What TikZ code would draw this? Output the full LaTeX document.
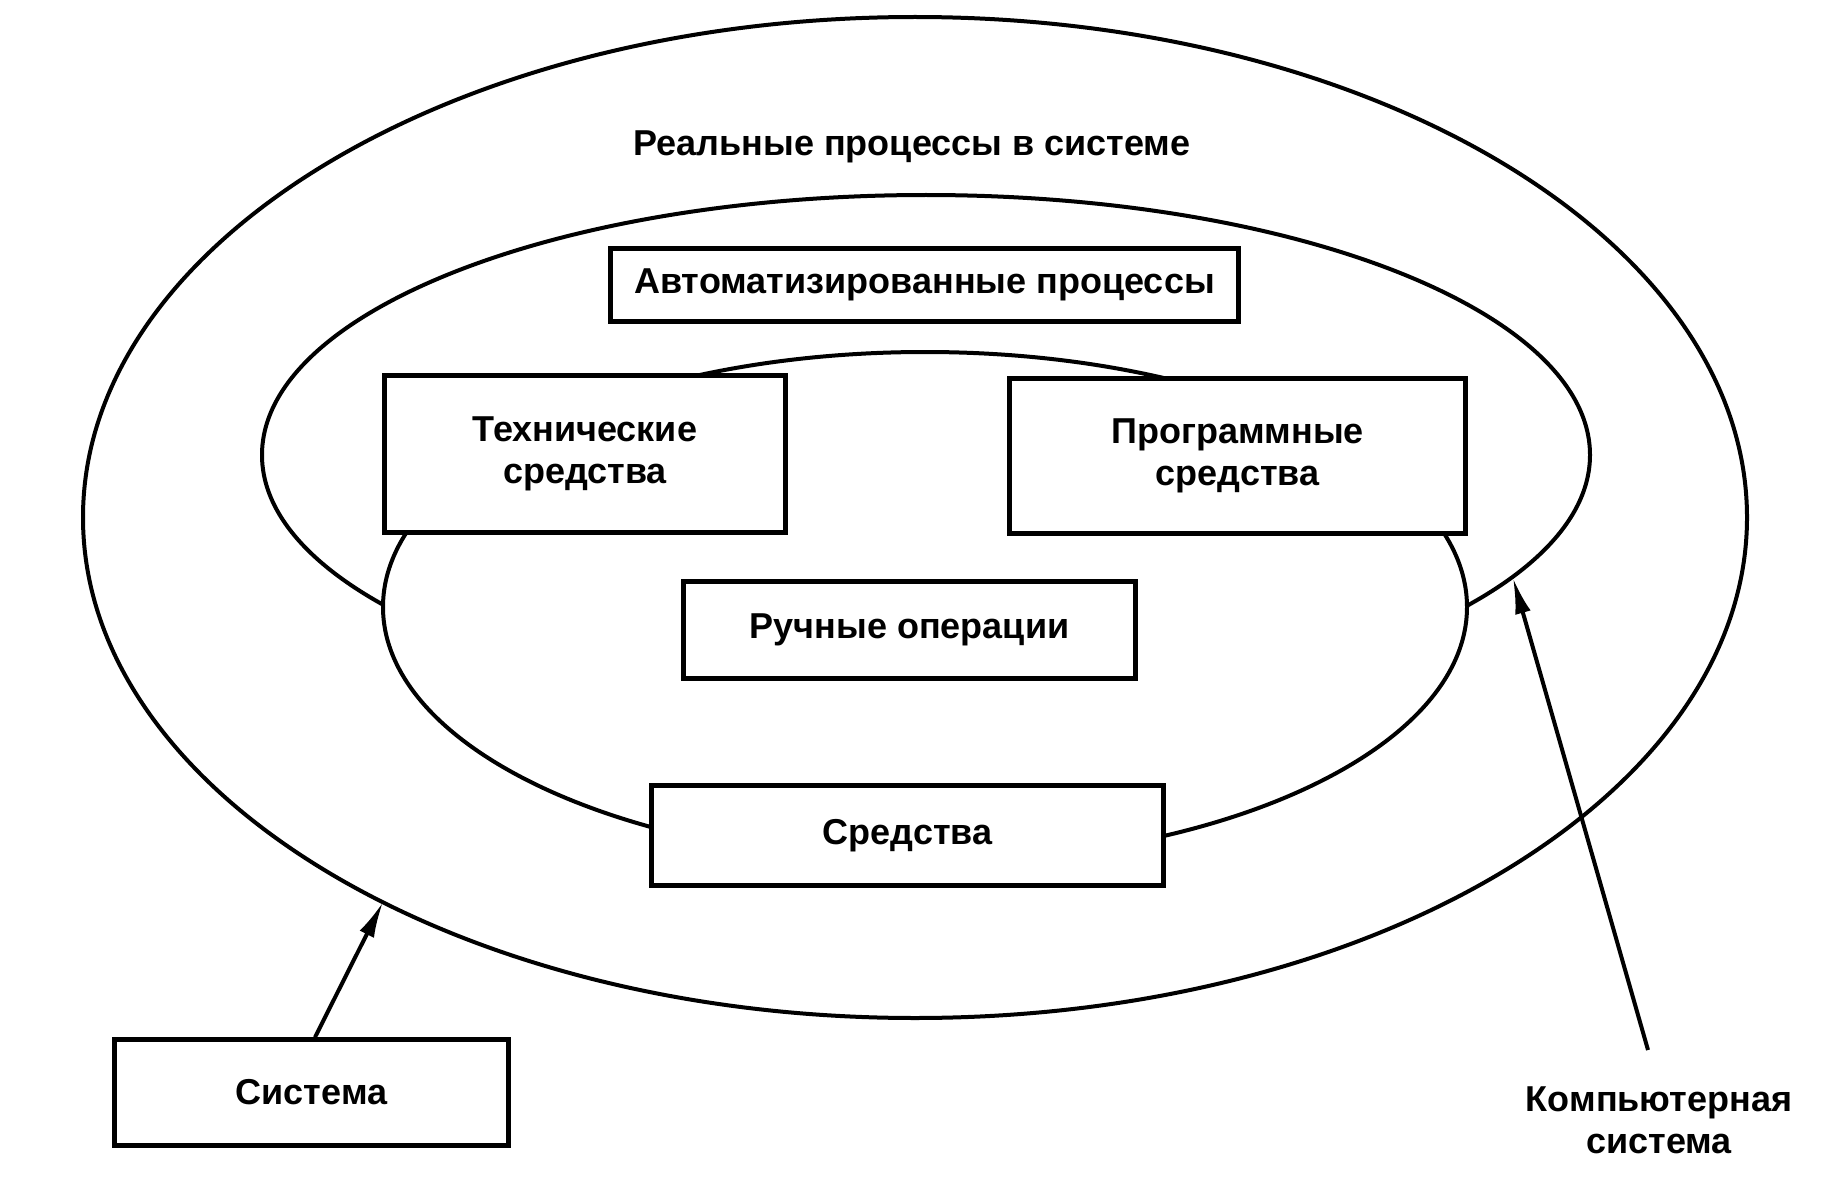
\documentclass[tikz,border=0pt]{standalone}
\usepackage{fontspec}
\setmainfont{Liberation Sans}
\usetikzlibrary{arrows.meta}
\begin{document}
\begin{tikzpicture}[x=1pt,y=-1pt,
  ellline/.style={line width=4pt},
  txt/.style={font=\fontsize{36}{42}\selectfont\bfseries, align=center},
  box/.style={txt, draw, line width=4.5pt, fill=white, rectangle, inner sep=0pt},
  arr/.style={line width=4pt, -{Latex[length=36pt,width=16pt]}}]
\useasboundingbox (0,0) rectangle (1829,1193);
\fill[white] (0,0) rectangle (1829,1193);
% ellipses
\draw[ellline] (915,517.5) ellipse [x radius=832pt, y radius=500.5pt];
\draw[ellline] (926,455) ellipse [x radius=664pt, y radius=260pt];
\draw[ellline, fill=white] (925,607) ellipse [x radius=542pt, y radius=255pt];
% boxes
\node[box, minimum width=628pt, minimum height=73pt] (auto) at (924.5,285) {Автоматизированные процессы};
\node[box, minimum width=401pt, minimum height=157pt] (tech) at (585,454) {Технические\\средства};
\node[box, minimum width=456pt, minimum height=155pt] (prog) at (1237.5,456) {Программные\\средства};
\node[box, minimum width=452pt, minimum height=97pt] (hand) at (909.5,630) {Ручные операции};
\node[box, minimum width=512pt, minimum height=100pt] (sred) at (907.5,835.5) {Средства};
\node[box, minimum width=394pt, minimum height=106pt] (sys) at (311.5,1092.5) {Система};
% labels
\node[txt] (real) at (912,147) {Реальные процессы в системе};
\node[txt] (comp) at (1659,1120) {Компьютерная\\система};
% arrows
\coordinate (sysTip) at (383,902);
\coordinate (compTip) at (1513,578);
\coordinate (compTail) at (1648,1050);
\draw[arr] ([xshift=3.5pt]sys.north) -- (sysTip);
\draw[arr] (compTail) -- (compTip);
\end{tikzpicture}
\end{document}
